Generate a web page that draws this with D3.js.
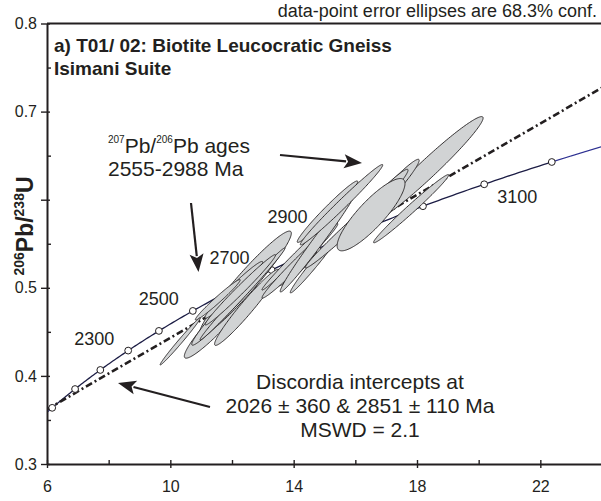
<!DOCTYPE html>
<html>
<head>
<meta charset="utf-8">
<script src="https://cdn.jsdelivr.net/npm/d3@7"></script>
<style>
  body { margin: 0; background: #fff; }
  svg { display: block; font-family: "Liberation Sans", Arial, Helvetica, sans-serif; }
</style>
</head>
<body>
<svg id="chart" width="601" height="501"></svg>
<script>
// U-Pb concordia diagram (Wetherill), sample T01/02

// decay constants (per year)
const LAMBDA_238 = 1.55125e-10;
const LAMBDA_235 = 9.8485e-10;

// axes
const xTicks = [6, 10, 14, 18, 22];
const xMinorTicks = [8, 12, 16, 20, 24];
const yTicks = [0.3, 0.4, 0.5, 0.6, 0.7, 0.8];
const yTickLabels = ["0.3", "0.4", "0.5", "", "0.7", "0.8"];
const yMinorTicks = [0.35, 0.45, 0.55, 0.65, 0.75];

// concordia age markers (Ma) and the labelled ones
const markerAges = [2000, 2100, 2200, 2300, 2400, 2500, 2600, 2700, 2800, 2900, 3000, 3100, 3200];
const labelAges = [2300, 2500, 2700, 2900, 3100];

// zircon analyses: 207Pb/235U, 206Pb/238U, 1-sigma errors and error correlation
const spotX   = [11.621, 12.433, 11.945, 12.482, 12.059, 12.341, 12.270, 11.539, 10.321, 14.090, 14.077, 14.203, 14.707, 14.821, 15.097, 15.844, 15.552, 18.313, 16.949, 16.608, 16.510, 17.810];
const spotY   = [0.4636, 0.5051, 0.4824, 0.4778, 0.4977, 0.4930, 0.4977, 0.4864, 0.4392, 0.5233, 0.5361, 0.5307, 0.5290, 0.5545, 0.5864, 0.5699, 0.5943, 0.6341, 0.6028, 0.5943, 0.5830, 0.5898];
const spotSX  = [0.770, 0.984, 0.825, 0.691, 0.618, 0.909, 0.753, 0.480, 0.430, 0.424, 0.730, 0.810, 0.539, 0.830, 0.647, 0.967, 0.882, 1.208, 0.740, 0.726, 0.726, 0.804];
const spotSY  = [0.02869, 0.03911, 0.03137, 0.02849, 0.02125, 0.03445, 0.02634, 0.01515, 0.01765, 0.01385, 0.02553, 0.02794, 0.02295, 0.03908, 0.02302, 0.03124, 0.03011, 0.03974, 0.02841, 0.02652, 0.02707, 0.02553];
const spotRho = [0.948, 0.958, 0.978, 0.966, 0.976, 0.994, 0.987, 0.980, 0.991, 0.905, 0.992, 0.986, 0.984, 0.987, 0.978, 0.989, 0.988, 0.973, 0.972, 0.975, 0.861, 0.987];

// discordia intercepts (Ma)
const interceptAges = [2026, 2851];

// ---------------------------------------------------------------
const svg = d3.select("#chart");
const W = 601, H = 501;
const INK = "#231f20";

const x = d3.scaleLinear().domain([6, 24]).range([47, 602]);
const y = d3.scaleLinear().domain([0.3, 0.8]).range([464, 23.5]);

const ratio235 = t => Math.exp(LAMBDA_235 * t * 1e6) - 1;
const ratio238 = t => Math.exp(LAMBDA_238 * t * 1e6) - 1;

svg.append("rect").attr("width", W).attr("height", H).attr("fill", "#fff");

svg.append("defs").append("clipPath").attr("id", "plot")
  .append("rect").attr("x", x(6)).attr("y", y(0.8))
  .attr("width", x(24) - x(6)).attr("height", y(0.3) - y(0.8));

const plot = svg.append("g").attr("clip-path", "url(#plot)");

// concordia curve
const tMin = Math.log(1 + 6) / LAMBDA_235 / 1e6;
const tMax = Math.log(1 + 24) / LAMBDA_235 / 1e6;
const curvePts = (a, b) => d3.range(a, b + 0.01, (b - a) / 200).map(t => [x(ratio235(t)), y(ratio238(t))]);
const line = d3.line();
const first = markerAges[0], last = markerAges[markerAges.length - 1];
plot.append("path").attr("d", line(curvePts(tMin - 5, first)))
  .attr("fill", "none").attr("stroke", "#2e3192").attr("stroke-width", 1.2);
plot.append("path").attr("d", line(curvePts(last, tMax + 5)))
  .attr("fill", "none").attr("stroke", "#2e3192").attr("stroke-width", 1.2);
plot.append("path").attr("d", line(curvePts(first, last)))
  .attr("fill", "none").attr("stroke", "#1c1d45").attr("stroke-width", 1.3);

// discordia through both intercepts
const p1 = [ratio235(interceptAges[0]), ratio238(interceptAges[0])];
const p2 = [ratio235(interceptAges[1]), ratio238(interceptAges[1])];
const slope = (p2[1] - p1[1]) / (p2[0] - p1[0]);
const discY = v => p1[1] + slope * (v - p1[0]);
plot.append("line")
  .attr("x1", x(6)).attr("y1", y(discY(6)))
  .attr("x2", x(24)).attr("y2", y(discY(24)))
  .attr("stroke", INK).attr("stroke-width", 2.6)
  .attr("stroke-dasharray", "7,3,2,3");

// age markers
plot.selectAll("circle.age").data(markerAges).join("circle")
  .attr("class", "age")
  .attr("cx", t => x(ratio235(t))).attr("cy", t => y(ratio238(t)))
  .attr("r", 3.4).attr("fill", "#fff").attr("stroke", INK).attr("stroke-width", 1);

// error ellipses (68.3% confidence, 2 degrees of freedom)
const K = Math.sqrt(-2 * Math.log(1 - 0.683));
const ellipse = d3.line().curve(d3.curveLinearClosed);
const ellipsePts = i => {
  const r = spotRho[i], q = Math.sqrt(1 - r * r);
  return d3.range(160).map(j => {
    const a = 2 * Math.PI * j / 160, u = Math.cos(a), v = Math.sin(a);
    return [x(spotX[i] + K * spotSX[i] * u), y(spotY[i] + K * spotSY[i] * (r * u + q * v))];
  });
};
plot.selectAll("path.spot").data(d3.range(spotX.length)).join("path")
  .attr("class", "spot")
  .attr("d", i => ellipse(ellipsePts(i)))
  .attr("fill", "#d1d3d4").attr("stroke", INK).attr("stroke-width", 0.9);

// age labels on the concordia
const labelOffset = { 2300: [-34, -6], 2500: [-34, -6], 2700: [-42, -6], 2900: [-80, -5], 3100: [33, 19] };
svg.selectAll("text.age").data(labelAges).join("text")
  .attr("class", "age")
  .attr("x", t => x(ratio235(t)) + labelOffset[t][0])
  .attr("y", t => y(ratio238(t)) + labelOffset[t][1])
  .attr("text-anchor", "middle").attr("font-size", 18).attr("fill", INK)
  .text(t => t);

// axes
const axisG = svg.append("g").attr("fill", INK);
const xAxis = axisG.append("g").attr("transform", `translate(0,${y(0.3)})`)
  .call(d3.axisBottom(x).tickValues(xTicks).tickFormat(d3.format("d")).tickSize(4).tickSizeOuter(0).tickPadding(13));
xAxis.selectAll(".tick line").attr("y1", -4);
axisG.append("g").attr("transform", `translate(0,${y(0.3)})`)
  .call(d3.axisBottom(x).tickValues(xMinorTicks).tickFormat("").tickSize(-4).tickSizeOuter(0))
  .select(".domain").remove();

const yAxis = axisG.append("g").attr("transform", `translate(${x(6)},0)`)
  .call(d3.axisLeft(y).tickValues(yTicks).tickFormat((d, i) => yTickLabels[i]).tickSize(6).tickSizeOuter(0).tickPadding(4));
yAxis.selectAll(".tick line").attr("x1", 3);
axisG.append("g").attr("transform", `translate(${x(6)},0)`)
  .call(d3.axisLeft(y).tickValues(yMinorTicks).tickFormat("").tickSize(-4).tickSizeOuter(0))
  .select(".domain").remove();

axisG.selectAll(".domain").attr("stroke", INK).attr("stroke-width", 2);
axisG.selectAll(".tick line").attr("stroke", INK).attr("stroke-width", 1.4);
axisG.selectAll(".tick text").attr("font-size", 16).attr("fill", INK)
  .attr("font-family", "\"Liberation Sans\", Arial, sans-serif");

// top frame line
svg.append("line").attr("x1", x(6)).attr("x2", x(24)).attr("y1", y(0.8)).attr("y2", y(0.8))
  .attr("stroke", INK).attr("stroke-width", 2);

// y-axis title
const yTitle = svg.append("text").attr("transform", "translate(33,226) rotate(-90)")
  .attr("text-anchor", "middle").attr("font-weight", "bold").attr("fill", INK);
yTitle.append("tspan").attr("font-size", 14).attr("dy", -9).text("206");
yTitle.append("tspan").attr("font-size", 23).attr("dy", 9).text("Pb/");
yTitle.append("tspan").attr("font-size", 14).attr("dy", -9).text("238");
yTitle.append("tspan").attr("font-size", 23).attr("dy", 9).text("U");

// header note
svg.append("text").attr("x", 597).attr("y", 17).attr("text-anchor", "end")
  .attr("font-size", 18).attr("fill", INK).text("data-point error ellipses are 68.3% conf.");

// panel title
const title = svg.append("text").attr("font-weight", "bold").attr("font-size", 19).attr("fill", INK);
title.append("tspan").attr("x", 54).attr("y", 52).text("a) T01/ 02: Biotite Leucocratic Gneiss");
title.append("tspan").attr("x", 54).attr("y", 75).text("Isimani Suite");

// annotation: Pb-Pb age range
const ann1 = svg.append("text").attr("x", 108).attr("y", 153).attr("font-size", 21).attr("fill", INK);
ann1.append("tspan").attr("font-size", 10).attr("dy", -10).text("207");
ann1.append("tspan").attr("dy", 10).text("Pb/");
ann1.append("tspan").attr("font-size", 10).attr("dy", -10).text("206");
ann1.append("tspan").attr("dy", 10).text("Pb ages");
svg.append("text").attr("x", 108).attr("y", 176).attr("font-size", 21).attr("fill", INK).text("2555-2988 Ma");

// annotation: discordia result
const ann2 = svg.append("text").attr("text-anchor", "middle").attr("font-size", 21).attr("fill", INK);
ann2.append("tspan").attr("x", 360).attr("y", 389).text("Discordia intercepts at");
ann2.append("tspan").attr("x", 360).attr("y", 413).text("2026 \u00b1 360 & 2851 \u00b1 110 Ma");
ann2.append("tspan").attr("x", 360).attr("y", 437).text("MSWD = 2.1");

// arrows
function arrow(x0, y0, x1, y1) {
  const len = 18, half = 7;
  const dx = x1 - x0, dy = y1 - y0, d = Math.hypot(dx, dy);
  const ux = dx / d, uy = dy / d;
  const bx = x1 - ux * len, by = y1 - uy * len;
  svg.append("line").attr("x1", x0).attr("y1", y0).attr("x2", bx + ux * 2).attr("y2", by + uy * 2)
    .attr("stroke", INK).attr("stroke-width", 2.2);
  svg.append("path")
    .attr("d", `M${x1},${y1}L${bx - uy * half},${by + ux * half}L${bx + ux * 4},${by + uy * 4}L${bx + uy * half},${by - ux * half}Z`)
    .attr("fill", INK);
}
arrow(280, 155, 362, 163);
arrow(191, 203, 198.5, 272);
arrow(210, 407, 118, 383);
</script>
</body>
</html>
